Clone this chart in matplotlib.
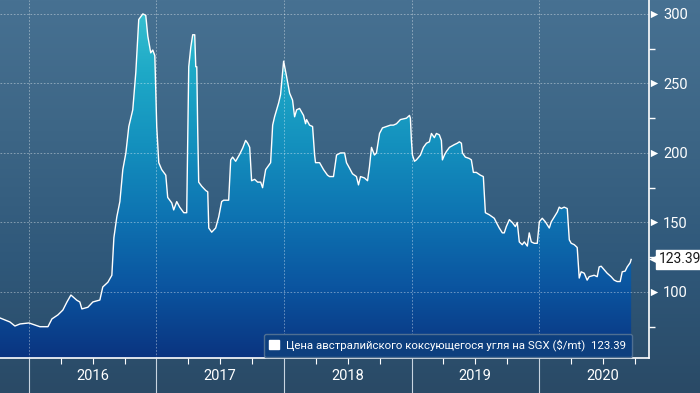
import numpy as np
import matplotlib
matplotlib.use("Agg")
import matplotlib.pyplot as plt
from matplotlib.colors import LinearSegmentedColormap
from matplotlib.patches import Patch
import matplotlib.transforms as mtransforms

plt.rcParams["font.family"] = ["Roboto", "DejaVu Sans"]

# ---- data (decimal year, $/mt) ----
t = [2015.773, 2015.851, 2015.890, 2015.930, 2016.000, 2016.086, 2016.149, 2016.180, 2016.227,
     2016.266, 2016.298, 2016.329, 2016.376, 2016.399, 2016.415, 2016.462, 2016.501, 2016.556,
     2016.579, 2016.619, 2016.650, 2016.666, 2016.689, 2016.713, 2016.736, 2016.760, 2016.783,
     2016.814, 2016.838, 2016.861, 2016.893, 2016.916, 2016.932, 2016.955, 2016.971, 2016.987,
     2017.002, 2017.018, 2017.041, 2017.073, 2017.088, 2017.120, 2017.135, 2017.159, 2017.182,
     2017.214, 2017.237, 2017.253, 2017.269, 2017.284, 2017.300, 2017.308, 2017.316, 2017.323,
     2017.331, 2017.355, 2017.386, 2017.402, 2017.410, 2017.433, 2017.464, 2017.488, 2017.511,
     2017.527, 2017.566, 2017.582, 2017.597, 2017.621, 2017.652, 2017.676, 2017.699, 2017.715,
     2017.731, 2017.746, 2017.770, 2017.793, 2017.817, 2017.832, 2017.856, 2017.872, 2017.895,
     2017.911, 2017.926, 2017.958, 2017.973, 2017.997, 2018.020, 2018.044, 2018.067, 2018.083,
     2018.099, 2018.122, 2018.153, 2018.169, 2018.177, 2018.200, 2018.224, 2018.240, 2018.247,
     2018.279, 2018.310, 2018.341, 2018.357, 2018.388, 2018.412, 2018.443, 2018.475, 2018.490,
     2018.514, 2018.537, 2018.568, 2018.584, 2018.600, 2018.631, 2018.655, 2018.670, 2018.686,
     2018.709, 2018.725, 2018.749, 2018.772, 2018.803, 2018.835, 2018.858, 2018.882, 2018.913,
     2018.937, 2018.960, 2018.984, 2018.991, 2018.999, 2019.007, 2019.023, 2019.038, 2019.070,
     2019.093, 2019.117, 2019.140, 2019.156, 2019.179, 2019.195, 2019.218, 2019.234, 2019.242,
     2019.258, 2019.273, 2019.297, 2019.336, 2019.359, 2019.375, 2019.391, 2019.399, 2019.422,
     2019.453, 2019.469, 2019.485, 2019.508, 2019.540, 2019.563, 2019.579, 2019.610, 2019.649,
     2019.665, 2019.688, 2019.712, 2019.727, 2019.743, 2019.767, 2019.790, 2019.814, 2019.829,
     2019.845, 2019.868, 2019.884, 2019.908, 2019.923, 2019.939, 2019.962, 2019.986, 2020.002,
     2020.025, 2020.049, 2020.080, 2020.096, 2020.119, 2020.143, 2020.158, 2020.174, 2020.197,
     2020.221, 2020.237, 2020.252, 2020.276, 2020.299, 2020.315, 2020.330, 2020.354, 2020.377,
     2020.393, 2020.432, 2020.456, 2020.471, 2020.487, 2020.511, 2020.534, 2020.565, 2020.589,
     2020.612, 2020.636, 2020.652, 2020.675, 2020.691, 2020.714, 2020.722]
price = [81.3, 78.4, 75.5, 77.0, 77.7, 75.0, 75.0, 80.6, 83.5,
         87.0, 92.8, 97.8, 94.0, 92.8, 87.8, 89.0, 92.8, 94.2,
         103.6, 107.0, 112.0, 139.0, 154.0, 165.0, 188.0, 200.0, 219.0,
         231.0, 258.0, 296.0, 300.0, 299.0, 284.0, 272.0, 274.0, 270.0,
         219.0, 193.0, 188.0, 184.0, 168.0, 164.0, 159.0, 165.0, 161.0,
         157.0, 157.0, 262.0, 276.0, 285.0, 285.0, 262.0, 262.0, 218.0,
         179.0, 176.0, 173.0, 172.0, 146.0, 143.0, 146.0, 154.0, 165.0,
         166.0, 166.0, 195.0, 197.0, 194.0, 199.0, 203.5, 209.0, 207.0,
         204.0, 180.0, 181.0, 179.0, 179.0, 175.0, 188.0, 190.0, 193.0,
         220.0, 226.0, 236.0, 242.0, 266.0, 255.0, 243.0, 238.0, 226.0,
         231.0, 232.0, 227.0, 221.0, 224.0, 220.0, 219.0, 198.5, 193.0,
         193.0, 188.0, 184.0, 183.0, 183.0, 198.5, 200.0, 200.0, 193.0,
         189.0, 185.0, 183.0, 177.0, 183.0, 182.0, 180.0, 190.0, 204.0,
         198.5, 200.0, 214.0, 218.0, 219.0, 220.0, 220.0, 221.0, 224.0,
         224.5, 225.0, 227.0, 225.0, 209.0, 198.5, 194.0, 195.0, 198.5,
         204.0, 207.0, 208.0, 214.0, 211.0, 214.0, 213.0, 209.0, 195.0,
         198.5, 201.0, 204.0, 206.0, 207.0, 208.0, 207.0, 200.0, 197.0,
         196.0, 195.0, 186.0, 186.0, 184.0, 183.0, 157.0, 155.5, 153.0,
         150.0, 146.0, 142.5, 142.5, 147.0, 152.0, 150.0, 147.0, 150.0,
         136.0, 134.0, 136.0, 133.0, 142.5, 136.0, 135.0, 135.0, 150.5,
         153.0, 150.5, 146.0, 150.5, 154.0, 157.5, 161.0, 160.0, 161.0,
         160.0, 137.5, 135.0, 134.0, 132.0, 110.0, 114.5, 113.5, 108.5,
         111.0, 112.0, 111.0, 118.0, 118.5, 116.0, 113.5, 111.0, 108.5,
         107.5, 107.5, 114.5, 115.0, 118.0, 121.0, 123.39]
last_value = 123.39
series_label = "Цена австралийского коксующегося угля на SGX ($/mt)"
years = [2016, 2017, 2018, 2019, 2020]
y_major = [100, 150, 200, 250, 300]
y_minor = [75, 125, 175, 225, 275]

# ---- figure ----
W, H = 700, 393
fig = plt.figure(figsize=(W / 100, H / 100), dpi=100)

# figure background gradient
bg = fig.add_axes([0, 0, 1, 1], zorder=-10)
bg.axis("off")
bg_cmap = LinearSegmentedColormap.from_list("bg", ["#2a4a66", "#2f587a", "#3d6686", "#477192"])
grad = np.linspace(0, 1, 256).reshape(-1, 1)
bg.imshow(grad, aspect="auto", cmap=bg_cmap, origin="lower", extent=[0, 1, 0, 1])
bg.set_xlim(0, 1); bg.set_ylim(0, 1)

ax = fig.add_axes([0, 1 - 358 / H, 649 / W, 358 / H])
ax.patch.set_alpha(0)
xmin, xmax = 2015.773, 2020.862
ymin, ymax = 52.5, 310
ax.set_xlim(xmin, xmax)
ax.set_ylim(ymin, ymax)

# gradient fill under the curve
fill_cmap = LinearSegmentedColormap.from_list(
    "fill", ["#0a3480", "#0b55a0", "#0e74b2", "#1491be", "#1ea9c7", "#3cc4d2"])
poly = ax.fill_between(t, price, ymin, color="none", lw=0)
img = ax.imshow(grad, aspect="auto", cmap=fill_cmap, origin="lower",
                extent=[xmin, xmax, ymin, ymax], zorder=2)
img.set_clip_path(poly.get_paths()[0], transform=ax.transData)
ax.set_xlim(xmin, xmax)
ax.set_ylim(ymin, ymax)
ax.plot(t, price, color="white", lw=1.0, zorder=4)

# grid
for yv in y_major:
    ax.axhline(yv, color="white", lw=0.6, ls=(0, (2, 2)), alpha=0.45, zorder=3)
for yr in years:
    ax.axvline(yr, color="white", lw=0.6, ls=(0, (2, 2)), alpha=0.45, zorder=3)

# spines
for s in ["top", "left"]:
    ax.spines[s].set_visible(False)
ax.spines["right"].set_color("white")
ax.spines["bottom"].set_color("white")
ax.spines["right"].set_linewidth(1.2)
ax.spines["bottom"].set_linewidth(1.2)

# y axis on right
ax.yaxis.tick_right()
ax.set_yticks(y_major)
ax.set_yticks(y_minor, minor=True)
ax.tick_params(axis="y", which="major", length=0, pad=10, labelcolor="white", labelsize=10.5)
ax.tick_params(axis="y", which="minor", length=4, width=1, color="white", direction="out")
ytr = mtransforms.blended_transform_factory(ax.transAxes, ax.transData)
ax.scatter([1.0 + 5 / 649] * len(y_major), y_major, marker=">", s=28, color="white",
           transform=ytr, clip_on=False, zorder=6, lw=0)

# x axis
ax.set_xticks(years)
ax.set_xticklabels([])
ax.set_xticks([y + q for y in [2015] + years for q in (0.25, 0.5, 0.75)
               if xmin < y + q < xmax], minor=True)
ax.tick_params(axis="x", which="major", length=36, width=0.8, color="#c8d4e0", direction="out")
ax.tick_params(axis="x", which="minor", length=4, width=0.8, color="white", direction="out")
xtr = mtransforms.blended_transform_factory(ax.transData, ax.transAxes)
for yr in years:
    ax.text(yr + 0.5, -18 / 358, str(yr), transform=xtr, ha="center", va="center",
            color="white", fontsize=10.5)

# last-value tag
ax.annotate(f"{last_value:.2f}", xy=(1.0, last_value), xycoords=ytr,
            xytext=(7, 0), textcoords="offset points", ha="left", va="center",
            fontsize=10, color="#1a1a1a",
            bbox=dict(boxstyle="square,pad=0.18", fc="white", ec="white"),
            annotation_clip=False, zorder=7)
ax.scatter([1.0 + 4 / 649], [last_value], marker="<", s=40, color="white",
           transform=ytr, clip_on=False, zorder=6, lw=0)

# legend
leg = ax.legend([Patch(facecolor="white", edgecolor="white")],
                [f"{series_label}  {last_value:.2f}"],
                loc="lower right", bbox_to_anchor=(632 / 649, 0.003),
                fontsize=8.2, frameon=True, fancybox=True, borderaxespad=0,
                handlelength=0.9, handleheight=0.9, handletextpad=0.6,
                borderpad=0.5, labelcolor="white")
leg.get_frame().set_facecolor("#0d3f7e")
leg.get_frame().set_edgecolor("#4f6f92")
leg.get_frame().set_alpha(1)
leg.set_zorder(8)

fig.savefig("out.png", dpi=100)
